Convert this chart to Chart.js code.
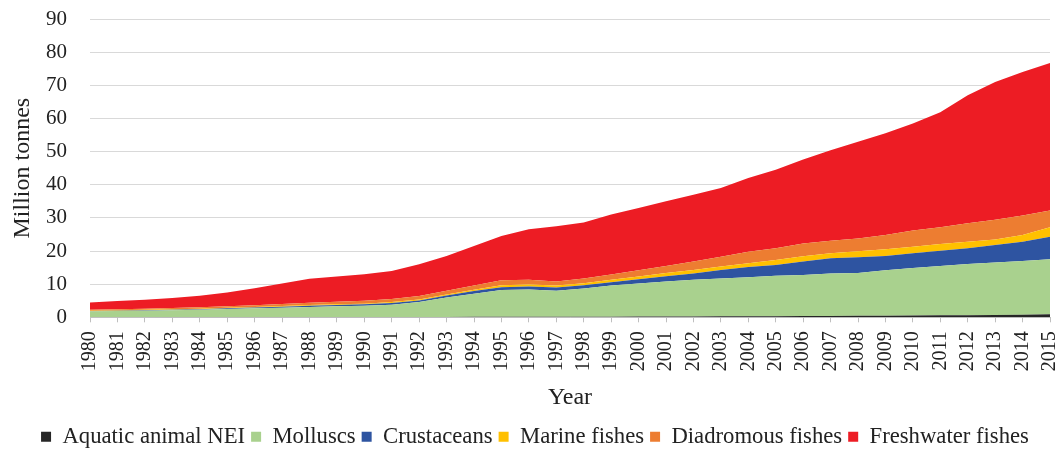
<!DOCTYPE html>
<html><head><meta charset="utf-8">
<script src="https://cdn.jsdelivr.net/npm/chart.js@4.4.1/dist/chart.umd.min.js"></script>
<style>html,body{margin:0;padding:0;background:#fff}</style>
</head><body>
<canvas id="c" width="1059" height="454" style="width:1059px;height:454px;display:block"></canvas>
<script>
const years = ["1980","1981","1982","1983","1984","1985","1986","1987","1988","1989","1990","1991","1992","1993","1994","1995","1996","1997","1998","1999","2000","2001","2002","2003","2004","2005","2006","2007","2008","2009","2010","2011","2012","2013","2014","2015"];
const aquaticNEI = [0.05,0.05,0.05,0.06,0.06,0.07,0.08,0.08,0.09,0.1,0.1,0.1,0.1,0.12,0.13,0.15,0.16,0.17,0.18,0.2,0.22,0.24,0.26,0.28,0.3,0.33,0.36,0.4,0.45,0.5,0.55,0.6,0.65,0.7,0.8,0.9];
const molluscs = [1.75,1.85,1.95,2.04,2.24,2.43,2.62,2.82,3.01,3.2,3.4,3.7,4.5,5.88,6.97,8.05,8.24,7.83,8.52,9.4,9.98,10.56,11.04,11.42,11.8,12.17,12.44,12.8,12.95,13.7,14.35,14.9,15.45,15.8,16.2,16.6];
const crustaceans = [0.1,0.1,0.1,0.15,0.15,0.2,0.25,0.3,0.4,0.4,0.4,0.5,0.5,0.6,0.8,0.9,0.9,1.0,1.0,1.0,1.3,1.6,1.9,2.6,3.1,3.3,4.0,4.6,4.7,4.3,4.4,4.6,4.7,5.3,5.8,6.8];
const marineFishes = [0.1,0.1,0.15,0.15,0.15,0.15,0.15,0.2,0.2,0.2,0.2,0.3,0.3,0.3,0.4,0.6,0.6,0.6,0.6,0.7,0.8,1.0,1.1,1.0,1.1,1.5,1.6,1.5,1.8,2.0,2.0,2.0,2.0,1.7,2.0,2.9];
const diadromousFishes = [0.3,0.35,0.35,0.4,0.4,0.45,0.5,0.6,0.7,0.8,0.9,0.9,1.0,1.1,1.3,1.5,1.4,1.2,1.4,1.6,1.9,2.1,2.5,3.0,3.5,3.5,3.9,3.8,3.9,4.3,4.9,5.1,5.6,5.9,5.9,5.0];
const freshwaterFishes = [2.2,2.45,2.7,3.0,3.5,4.2,5.2,6.2,7.2,7.6,8.0,8.5,9.6,10.5,11.9,13.3,15.3,16.7,16.9,18.1,18.8,19.5,20.2,20.7,22.2,23.7,25.3,27.3,29.2,30.7,32.3,34.7,38.6,41.6,43.3,44.5];
const yTicks = [0,10,20,30,40,50,60,70,80,90];

const seriesNames = ["Aquatic animal NEI","Molluscs","Crustaceans","Marine fishes","Diadromous fishes","Freshwater fishes"];
const seriesData = [aquaticNEI, molluscs, crustaceans, marineFishes, diadromousFishes, freshwaterFishes];
const seriesColors = ["#262626","#a9d18e","#2e54a1","#ffc000","#ed7d31","#ed1c24"];

const FONT = "'Liberation Serif', 'Times New Roman', serif";

const datasets = seriesNames.map((n, i) => ({
  label: n,
  data: seriesData[i],
  backgroundColor: seriesColors[i],
  borderColor: seriesColors[i],
  borderWidth: 0,
  pointRadius: 0,
  pointHoverRadius: 0,
  tension: 0,
  fill: i === 0 ? 'origin' : '-1'
}));

function zeroPad(s) { s.paddingLeft = 0; s.paddingRight = 0; s.paddingTop = 0; s.paddingBottom = 0; }

new Chart(document.getElementById('c'), {
  type: 'line',
  data: { labels: years, datasets },
  options: {
    responsive: false,
    devicePixelRatio: 1,
    animation: false,
    layout: { padding: { top: 19, right: 9, bottom: -4, left: 20 } },
    plugins: {
      legend: {
        position: 'bottom',
        labels: {
          font: { family: FONT, size: 22.7 },
          color: '#222',
          boxWidth: 10,
          boxHeight: 10,
          padding: 6
        }
      },
      tooltip: { enabled: false }
    },
    scales: {
      x: {
        offset: false,
        grid: { display: true, drawOnChartArea: false, drawTicks: true, tickLength: 5, color: '#bfbfbf' },
        border: { display: true, color: '#bfbfbf' },
        ticks: {
          autoSkip: false, minRotation: 90, maxRotation: 90,
          font: { family: FONT, size: 20 }, color: '#222', padding: 9
        },
        title: { display: true, text: 'Year', font: { family: FONT, size: 24 }, color: '#222', padding: { top: 4, bottom: 7 } },
        afterFit: (s) => { s.height = 102; zeroPad(s); }
      },
      y: {
        stacked: true,
        min: 0, max: 90,
        afterBuildTicks: (s) => { s.ticks = yTicks.map(v => ({ value: v })); },
        grid: { color: '#d9d9d9', drawTicks: false, lineWidth: 1 },
        border: { display: false },
        ticks: { font: { family: FONT, size: 21 }, color: '#222', padding: 23 },
        title: { display: true, text: 'Million tonnes', font: { family: FONT, size: 24 }, color: '#222', padding: { top: -12, bottom: 4 } },
        afterFit: (s) => { s.width = 70; zeroPad(s); }
      }
    }
  }
});
</script>
</body></html>
